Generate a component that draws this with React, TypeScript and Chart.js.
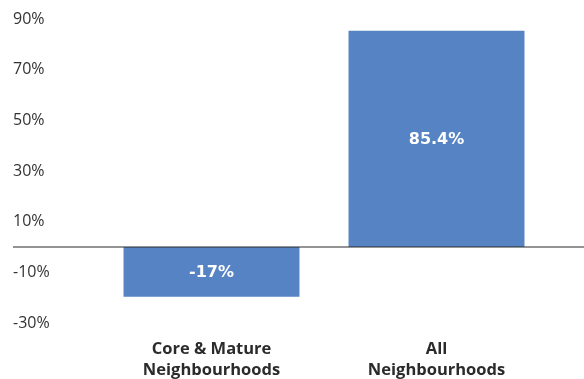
import React, { useEffect, useRef } from "react";
import { Chart, registerables } from "chart.js";

Chart.register(...registerables);

const categories: string[][] = [["Core & Mature", "Neighbourhoods"], ["All", "Neighbourhoods"]];
const barValues: number[] = [-19.6, 85.4];
const barLabels: string[] = ["-17%", "85.4%"];
const yMin = -30;
const yMax = 90;
const yStep = 20;

const FONT = "'Open Sans', 'Lato', sans-serif";

const zeroLinePlugin = {
  id: "zeroLine",
  afterDatasetsDraw(chart: any) {
    const { ctx } = chart;
    const y = chart.scales.y.getPixelForValue(0);
    ctx.save();
    ctx.strokeStyle = "#2a2a2a";
    ctx.lineWidth = 1.2;
    ctx.beginPath();
    ctx.moveTo(13, y);
    ctx.lineTo(chart.width, y);
    ctx.stroke();
    ctx.restore();
  },
};

const barLabelPlugin = {
  id: "barLabels",
  afterDatasetsDraw(chart: any) {
    const { ctx } = chart;
    const meta = chart.getDatasetMeta(0);
    ctx.save();
    ctx.fillStyle = "#ffffff";
    ctx.font = `700 16px 'DejaVu Sans', sans-serif`;
    ctx.textAlign = "center";
    ctx.textBaseline = "middle";
    meta.data.forEach((bar: any, i: number) => {
      const cy = (bar.y + bar.base) / 2 + 1;
      ctx.fillText(barLabels[i], bar.x, cy);
    });
    ctx.restore();
  },
};

export default function App() {
  const ref = useRef<HTMLCanvasElement | null>(null);
  useEffect(() => {
    document.body.style.margin = "0";
    const chart = new Chart(ref.current as HTMLCanvasElement, {
      type: "bar",
      data: {
        labels: categories,
        datasets: [
          {
            data: barValues,
            backgroundColor: "#5583c3",
            borderWidth: 0,
            categoryPercentage: 1,
            barPercentage: 0.782,
          },
        ],
      },
      options: {
        animation: false,
        responsive: false,
        maintainAspectRatio: false,
        layout: { padding: { left: 13, right: 35, top: 19, bottom: 0 } },
        plugins: { legend: { display: false }, tooltip: { enabled: false } },
        scales: {
          x: {
            grid: { display: false, drawTicks: false },
            border: { display: false },
            afterFit(scale: any) {
              scale.height = 56;
            },
            ticks: {
              color: "#2b2b2b",
              padding: 16,
              font: { family: FONT, size: 16.5, weight: "bold", lineHeight: 1.25 },
              maxRotation: 0,
            },
          },
          y: {
            min: yMin,
            max: yMax,
            grid: { display: false, drawTicks: false },
            border: { display: false },
            afterBuildTicks(scale: any) {
              const t = [];
              for (let v = yMin; v <= yMax; v += yStep) t.push({ value: v });
              scale.ticks = t;
            },
            afterFit(scale: any) {
              scale.width = 86;
            },
            ticks: {
              crossAlign: "far",
              color: "#333333",
              font: { family: FONT, size: 16 },
              callback: (v: any) => `${v}%`,
            },
          },
        },
      },
      plugins: [zeroLinePlugin, barLabelPlugin],
    });
    return () => chart.destroy();
  }, []);
  return (
    <div style={{ width: 584, height: 379 }}>
      <canvas ref={ref} width={584} height={379} style={{ display: "block" }} />
    </div>
  );
}
